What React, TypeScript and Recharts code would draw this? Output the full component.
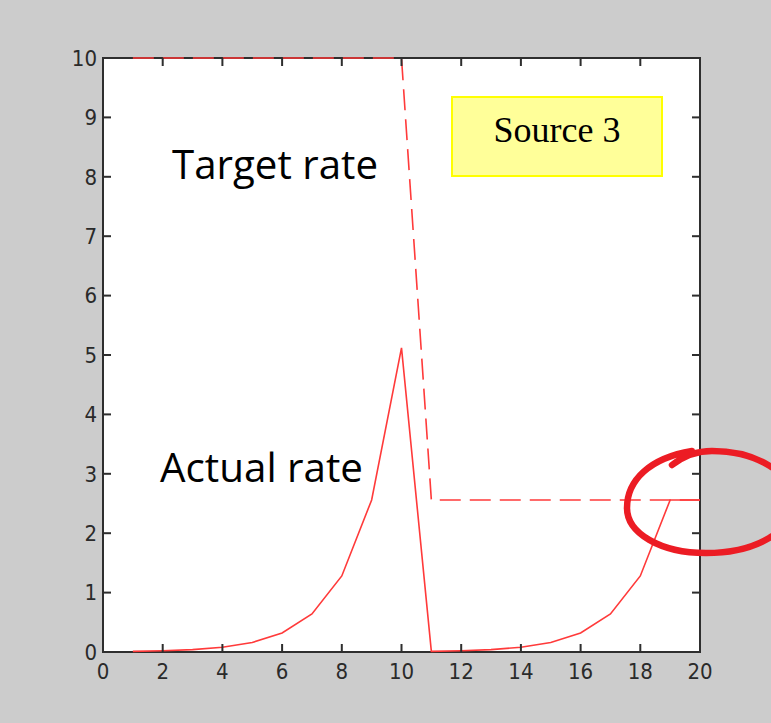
import React from "react";
import { LineChart, Line, XAxis, YAxis } from "recharts";

const xValues = [1, 2, 3, 4, 5, 6, 7, 8, 9, 10, 11, 12, 13, 14, 15, 16, 17, 18, 19, 20];
const actualRate = [0.01, 0.02, 0.04, 0.08, 0.16, 0.32, 0.64, 1.28, 2.56, 5.12, 0.01, 0.02, 0.04, 0.08, 0.16, 0.32, 0.64, 1.28, 2.56, 2.56];
const targetRate = [10, 10, 10, 10, 10, 10, 10, 10, 10, 10, 2.56, 2.56, 2.56, 2.56, 2.56, 2.56, 2.56, 2.56, 2.56, 2.56];
const xTicks = [0, 2, 4, 6, 8, 10, 12, 14, 16, 18, 20];
const yTicks = [0, 1, 2, 3, 4, 5, 6, 7, 8, 9, 10];

const data = xValues.map((x, i) => ({ x, actual: actualRate[i], target: targetRate[i] }));

const W = 771;
const H = 723;
const M = { top: 58, right: 71, bottom: 71, left: 103 };
const PW = W - M.left - M.right;
const PH = H - M.top - M.bottom;
const X_DOMAIN = [0, 20];
const Y_DOMAIN = [0, 10];
const sx = (v: number) => M.left + ((v - X_DOMAIN[0]) / (X_DOMAIN[1] - X_DOMAIN[0])) * PW;
const sy = (v: number) => M.top + PH - ((v - Y_DOMAIN[0]) / (Y_DOMAIN[1] - Y_DOMAIN[0])) * PH;

const axisColor = "#2e2e2e";
const lineColor = "#ff3a3a";
const TL = 8;
const TW = 2;
const tickFontFamily = "'Liberation Sans Narrow', 'DejaVu Sans Condensed', 'Liberation Sans', sans-serif";
const annoFont = "'Open Sans', 'Noto Sans', sans-serif";

function BottomTick(p: any) {
  const { x, y, payload } = p;
  return (
    <text x={x} y={y + 11} dy="0.71em" textAnchor="middle" fill="#2a2a2a" fontSize={22} fontFamily={tickFontFamily}>
      {payload.value}
    </text>
  );
}
function LeftTick(p: any) {
  const { x, y, payload } = p;
  return (
    <text x={x - 6} y={y} dy="0.355em" textAnchor="end" fill="#2a2a2a" fontSize={22} fontFamily={tickFontFamily}>
      {payload.value}
    </text>
  );
}

export default function App() {
  return (
    <div style={{ position: "absolute", left: 0, top: 0, width: W, height: H, background: "#cccccc", overflow: "hidden" }}>
      <div
        style={{
          position: "absolute",
          boxSizing: "border-box",
          left: M.left - 1,
          top: M.top - 1,
          width: PW + 2,
          height: PH + 2,
          background: "#ffffff",
          border: `2px solid ${axisColor}`,
        }}
      />
      <div style={{ position: "absolute", left: 0, top: 0 }}>
        <LineChart width={W} height={H} data={data} margin={{ top: M.top, right: M.right, bottom: 0, left: 0 }}>
          <XAxis
            dataKey="x"
            type="number"
            domain={X_DOMAIN}
            ticks={xTicks}
            height={M.bottom}
            orientation="bottom"
            axisLine={false}
            tickLine={false}
            tickSize={0}
            tickMargin={0}
            tick={BottomTick}
            interval={0}
          />
          <YAxis
            type="number"
            domain={Y_DOMAIN}
            ticks={yTicks}
            width={M.left}
            orientation="left"
            axisLine={false}
            tickLine={false}
            tickSize={0}
            tickMargin={0}
            tick={LeftTick}
            interval={0}
          />
          <Line
            type="linear"
            dataKey="target"
            stroke={lineColor}
            strokeWidth={1.6}
            strokeDasharray="21 9"
            dot={false}
            activeDot={false}
            isAnimationActive={false}
          />
          <Line
            type="linear"
            dataKey="actual"
            stroke={lineColor}
            strokeWidth={1.6}
            dot={false}
            activeDot={false}
            isAnimationActive={false}
          />
        </LineChart>
      </div>
      <svg width={W} height={H} style={{ position: "absolute", left: 0, top: 0, pointerEvents: "none" }}>
        {xTicks.map((t) => (
          <g key={`xt${t}`}>
            <rect x={sx(t) - TW / 2} y={M.top} width={TW} height={TL} fill={axisColor} />
            <rect x={sx(t) - TW / 2} y={M.top + PH - TL} width={TW} height={TL} fill={axisColor} />
          </g>
        ))}
        {yTicks.map((t) => (
          <g key={`yt${t}`}>
            <rect x={M.left} y={sy(t) - TW / 2} width={TL} height={TW} fill={axisColor} />
            <rect x={M.left + PW - TL} y={sy(t) - TW / 2} width={TL} height={TW} fill={axisColor} />
          </g>
        ))}
        <text x={172} y={179} fontFamily={annoFont} fontSize={40} fill="#000" textLength={206} lengthAdjust="spacingAndGlyphs">
          Target rate
        </text>
        <text x={160} y={482} fontFamily={annoFont} fontSize={40} fill="#000" textLength={203} lengthAdjust="spacingAndGlyphs">
          Actual rate
        </text>
        <rect x={452} y={97} width={210} height={79} fill="#ffff99" stroke="#ffff00" strokeWidth={2} />
        <text x={557} y={142} textAnchor="middle" fontFamily="'Liberation Serif', 'Times New Roman', serif" fontSize={36} fill="#000">
          Source 3
        </text>
        <path
          d="M 672 465 C 685 455, 698 451, 712 451 C 757 451, 794 474, 794 502 C 794 530, 757 553, 706 553 C 660 553, 627 533, 627 508 C 627 480, 650 458, 692 451"
          fill="none"
          stroke="#ec1c24"
          strokeWidth={6.5}
          strokeLinecap="round"
        />
      </svg>
    </div>
  );
}
